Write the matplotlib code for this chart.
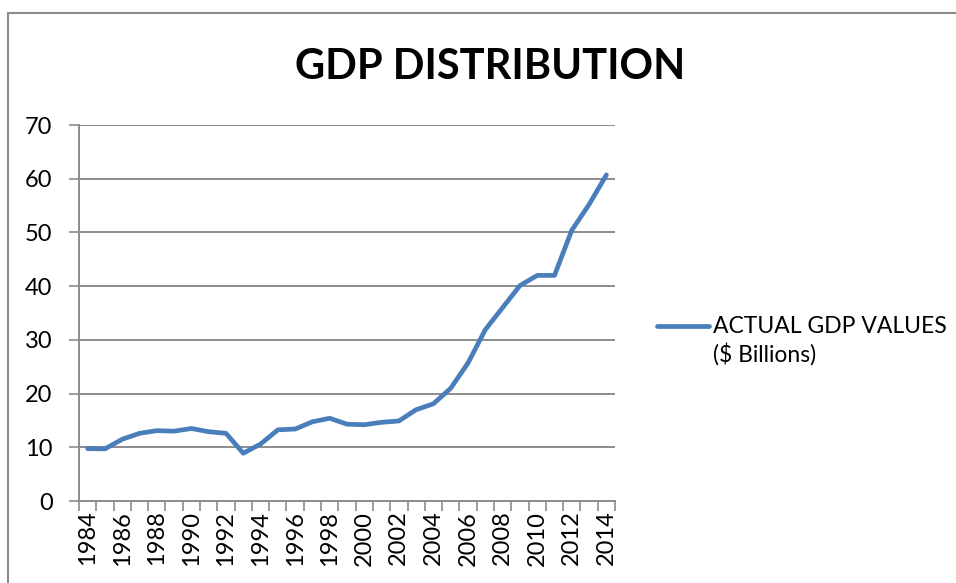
import matplotlib
matplotlib.use("Agg")
import matplotlib.pyplot as plt
from matplotlib.patches import Rectangle
from matplotlib.lines import Line2D

years = list(range(1984, 2015))
gdp = [9.75, 9.7, 11.5, 12.6, 13.1, 13.0, 13.5, 12.9, 12.6, 8.9,
       10.6, 13.25, 13.4, 14.75, 15.4, 14.3, 14.2, 14.65, 14.9, 17.0,
       18.1, 21.0, 25.7, 31.9, 36.0, 40.1, 42.0, 42.0, 50.4, 55.2, 60.7]
tick_labels = [str(y) if (y - 1984) % 2 == 0 else "" for y in years]
title = "GDP DISTRIBUTION"
legend_label = "ACTUAL GDP VALUES\n($ Billions)"

plt.rcParams['font.family'] = ['Lato', 'DejaVu Sans']

W, H = 956, 583
fig = plt.figure(figsize=(W / 100, H / 100), dpi=100)
fig.patch.set_facecolor("white")

# chart area border (cropped on right/bottom)
fig.add_artist(Rectangle((8 / W, -0.1), 2.0, (H - 13) / H + 0.1,
                         transform=fig.transFigure, fill=False,
                         edgecolor="#8c8c8c", linewidth=1.5))

ax = fig.add_axes([79 / W, (H - 501) / H, 536 / W, 376 / H])
x = list(range(len(years)))
line, = ax.plot(x, gdp, color="#4a7ebb", linewidth=3.4,
                solid_capstyle="round", solid_joinstyle="round", zorder=3)

ax.set_xlim(-0.5, len(years) - 0.5)
ax.set_ylim(0, 70)
ax.set_yticks(range(0, 71, 10))
ax.yaxis.grid(True, color="#8c8c8c", linewidth=1.4)
ax.set_axisbelow(True)

ax.set_xticks(x)
ax.set_xticklabels(tick_labels, rotation=90, fontsize=17)
ax.set_xticks([i - 0.5 for i in range(len(years) + 1)], minor=True)
ax.tick_params(axis="x", which="major", length=0, pad=7)
ax.tick_params(axis="x", which="minor", length=7, width=1.2, color="#8c8c8c")
ax.tick_params(axis="y", length=7, width=1.2, color="#8c8c8c", labelsize=17, pad=12)

for s in ["top", "right"]:
    ax.spines[s].set_visible(False)
for s in ["left", "bottom"]:
    ax.spines[s].set_color("#8c8c8c")
    ax.spines[s].set_linewidth(1.4)

fig.text(490 / W, 1 - 67 / H, title, ha="center", va="center",
         fontsize=30, fontweight="bold", color="black")

# legend
fig.add_artist(Line2D([657 / W, 709 / W], [1 - 326 / H, 1 - 326 / H],
                      transform=fig.transFigure, color="#4a7ebb",
                      linewidth=3.4, solid_capstyle="round"))
fig.text(713 / W, 1 - 341 / H, legend_label, ha="left", va="center",
         fontsize=16.5, linespacing=1.3, color="black")

fig.savefig("out.png", dpi=100, facecolor="white")
